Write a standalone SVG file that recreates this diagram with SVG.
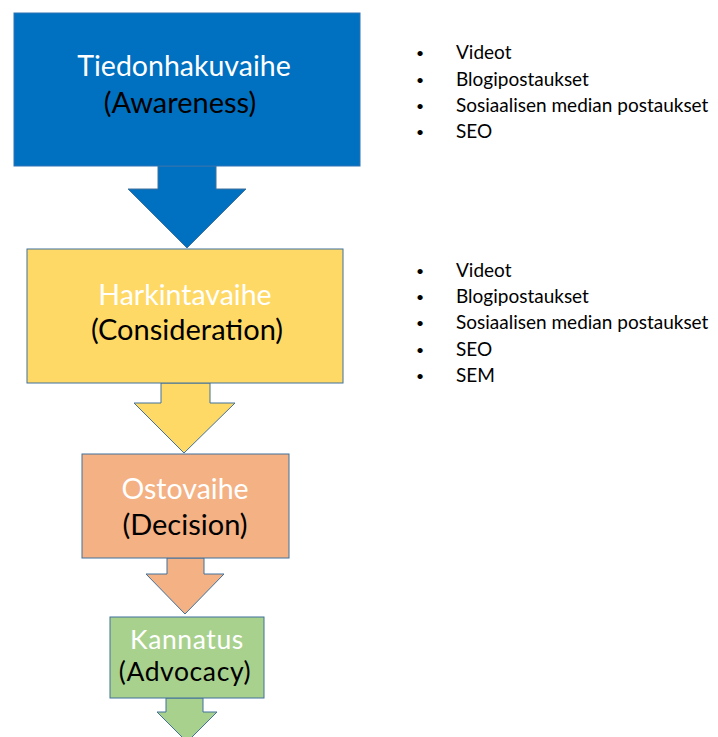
<svg xmlns="http://www.w3.org/2000/svg" width="718" height="737" viewBox="0 0 718 737">
<style>
.title{font-family:Lato,"Liberation Sans",sans-serif;font-size:28.5px;fill:#ffffff;text-anchor:middle}
.sub{font-family:Lato,"Liberation Sans",sans-serif;font-size:29px;fill:#000000;text-anchor:middle}
.sm{font-size:26.5px;letter-spacing:0.6px}
.li{font-family:Lato,"Liberation Sans",sans-serif;font-size:19px;fill:#000000}
.bu{font-family:Lato,"Liberation Sans",sans-serif;font-size:14px;fill:#000000}
.blk{stroke:#41719C;stroke-width:1}
</style>
<rect width="718" height="737" fill="#ffffff"/>
<g id="connectors">
<polygon class="blk" fill="#0070C0" stroke="#2E75B6" points="158,166 158,189 128,189 187,248 246,189 216,189 216,166"/>
<polygon class="blk" fill="#FFD966" points="161,383 161,403 134,403 184,453 235,403 210,403 210,383"/>
<polygon class="blk" fill="#F4B183" points="167,558 167,574 146,574 185,614 224,574 204,574 204,558"/>
<polygon class="blk" fill="#A9D18E" points="166,698 166,712 157,712 187,742 217,712 203,712 203,698"/>
</g>
<g id="awareness">
<rect x="14" y="13" width="346" height="153" fill="#0070C0" stroke="#2E75B6" stroke-width="1"/>
<text class="title" x="184" y="76">Tiedonhakuvaihe</text>
<text class="sub" x="180" y="113">(Awareness)</text>
</g>
<g id="consideration">
<rect class="blk" x="27" y="249" width="316" height="134" fill="#FFD966"/>
<text class="title" x="185" y="305">Harkintavaihe</text>
<text class="sub" x="187" y="340">(Consideration)</text>
</g>
<g id="decision">
<rect class="blk" x="82" y="454" width="207" height="104" fill="#F4B183"/>
<text class="title" x="185" y="499">Ostovaihe</text>
<text class="sub" x="185" y="535">(Decision)</text>
</g>
<g id="advocacy">
<rect class="blk" x="110" y="617" width="154" height="81" fill="#A9D18E"/>
<text class="title sm" x="187" y="649">Kannatus</text>
<text class="sub sm" x="185" y="681">(Advocacy)</text>
</g>
<g id="list1">
<text class="bu" x="416" y="58">•</text><text class="li" x="456" y="59">Videot</text>
<text class="bu" x="416" y="85">•</text><text class="li" x="456" y="86">Blogipostaukset</text>
<text class="bu" x="416" y="111">•</text><text class="li" x="456" y="112">Sosiaalisen median postaukset</text>
<text class="bu" x="416" y="137">•</text><text class="li" x="456" y="138">SEO</text>
</g>
<g id="list2">
<text class="bu" x="416" y="276">•</text><text class="li" x="456" y="277">Videot</text>
<text class="bu" x="416" y="302">•</text><text class="li" x="456" y="303">Blogipostaukset</text>
<text class="bu" x="416" y="328">•</text><text class="li" x="456" y="329">Sosiaalisen median postaukset</text>
<text class="bu" x="416" y="355">•</text><text class="li" x="456" y="356">SEO</text>
<text class="bu" x="416" y="381">•</text><text class="li" x="456" y="382">SEM</text>
</g>
</svg>
